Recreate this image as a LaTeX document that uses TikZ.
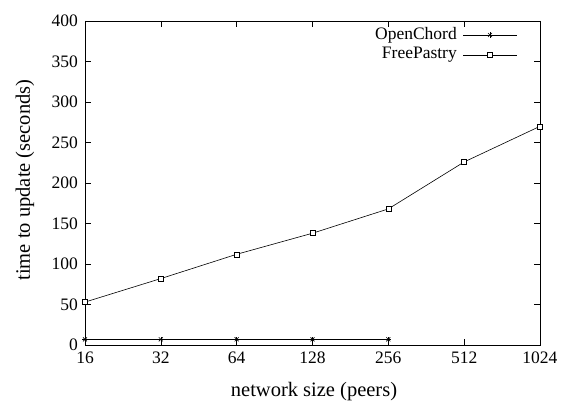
\documentclass[tikz,border=0pt]{standalone}
\usepackage{fontspec}
\setmainfont{Liberation Serif}
\tikzset{
  lbl/.style={font=\fontsize{17.5}{20}\selectfont, inner sep=2pt},
  axlbl/.style={font=\fontsize{20.5}{23}\selectfont, inner sep=2pt},
  curve/.style={line width=0.6pt},
  boxmark/.style={draw, line width=0.5pt, fill=white, minimum size=5pt, inner sep=0pt},
  starmark/.style={line width=0.6pt}
}
\newcommand{\starat}[1]{%
  \draw[starmark] #1 ++(-2.6pt,0) -- ++(5.2pt,0);
  \draw[starmark] #1 ++(0,-2.6pt) -- ++(0,5.2pt);
  \draw[starmark] #1 ++(-2pt,-2pt) -- ++(4pt,4pt);
  \draw[starmark] #1 ++(-2pt,2pt) -- ++(4pt,-4pt);
}
\begin{document}
\begin{tikzpicture}[x=1pt,y=1pt]
  \useasboundingbox (0,0) rectangle (569,405);
  \begin{scope}[shift={(85,60)},x=75.83pt,y=0.81pt]
    % rahmen
    \draw[line width=0.9pt] (0,0) rectangle (6,400);
    % y-achse
    \foreach \v in {0,50,...,400} {
      \draw[line width=0.6pt] (0,\v) -- ++(6pt,0);
      \draw[line width=0.6pt] (6,\v) -- ++(-6pt,0);
      \node[lbl, left=5pt] (ytick\v) at (0,\v) {\v};
    }
    % x-achse
    \foreach \n [count=\i from 0] in {16,32,64,128,256,512,1024} {
      \draw[line width=0.6pt] (\i,0) -- ++(0,6pt);
      \draw[line width=0.6pt] (\i,400) -- ++(0,-6pt);
      \node[lbl, below=5pt] (xtick\n) at (\i,0) {\n};
    }
    % FreePastry
    \draw[curve] (0,53) -- (1,82) -- (2,112) -- (3,138) -- (4,168) -- (5,226) -- (6,270);
    \foreach \px/\py [count=\k] in {0/53,1/82,2/112,3/138,4/168,5/226,6/270}
      \node[boxmark] (fp\k) at (\px,\py) {};
    % OpenChord
    \draw[curve] (0,7) -- (4,7);
    \foreach \px in {0,...,4} {
      \starat{(\px,7)}
    }
  \end{scope}
  % achsenbeschriftung
  \node[axlbl, rotate=90] (ylabel) at (25,225) {time to update (seconds)};
  \node[axlbl] (xlabel) at (314,13) {network size (peers)};
  % legende
  \node[lbl, left] (legoc) at (459,370) {OpenChord};
  \draw[curve] (463,370) -- (517,370);
  \starat{(490,370)}
  \node[lbl, left] (legfp) at (459,350) {FreePastry};
  \draw[curve] (463,350) -- (517,350);
  \node[boxmark] (legbox) at (490,350) {};
\end{tikzpicture}
\end{document}
